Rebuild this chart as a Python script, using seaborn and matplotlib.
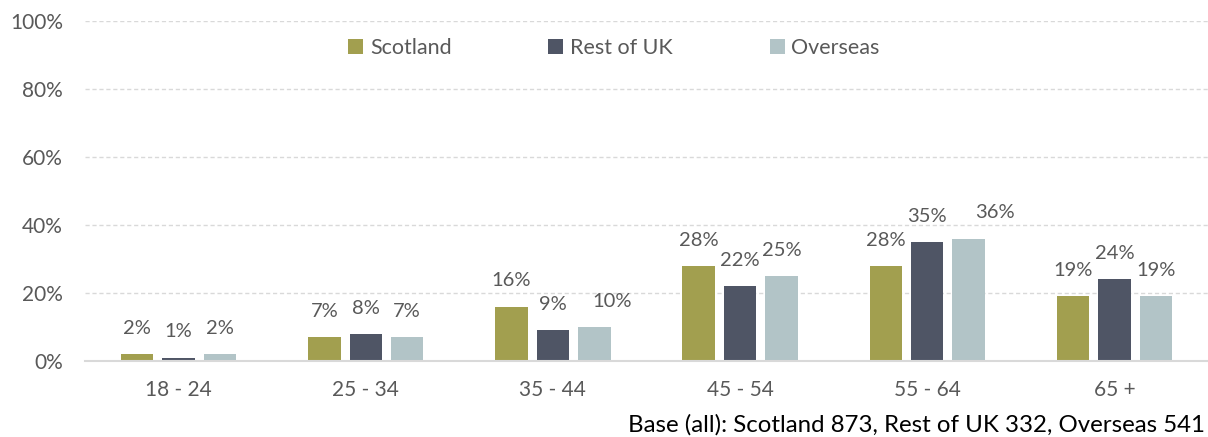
import matplotlib
matplotlib.use("Agg")
import matplotlib.pyplot as plt
import seaborn as sns
import pandas as pd
from matplotlib.patches import Patch

categories = ["18 - 24", "25 - 34", "35 - 44", "45 - 54", "55 - 64", "65 +"]
series_names = ["Scotland", "Rest of UK", "Overseas"]
scotland = [2, 7, 16, 28, 28, 19]
rest_of_uk = [1, 8, 9, 22, 35, 24]
overseas = [2, 7, 10, 25, 36, 19]
y_ticks = [0, 20, 40, 60, 80, 100]
footnote = "Base (all): Scotland 873, Rest of UK 332, Overseas 541"

colors = ["#A29F4F", "#4F5565", "#B2C4C7"]
text_grey = "#595959"

rows = []
for name, vals in zip(series_names, [scotland, rest_of_uk, overseas]):
    for c, v in zip(categories, vals):
        rows.append({"Age": c, "Group": name, "Value": v})
df = pd.DataFrame(rows)

sns.set_theme(style="white")
plt.rcParams["font.family"] = ["Lato", "DejaVu Sans"]

fig = plt.figure(figsize=(12.08, 4.37), dpi=100)
ax = fig.add_axes([85 / 1208, 1 - 361 / 437, (1208 - 85) / 1208, (361 - 21) / 437])

sns.barplot(data=df, x="Age", y="Value", hue="Group", order=categories,
            hue_order=series_names, palette=colors, width=0.665, gap=0.217,
            saturation=1, ax=ax, legend=False, edgecolor="none")

ax.set_xlim(-0.5, len(categories) - 0.5)
ax.set_ylim(0, 100)
ax.set_yticks(y_ticks)
ax.set_yticklabels([f"{t}%" for t in y_ticks])
ax.set_xlabel("")
ax.set_ylabel("")

for s in ["top", "right", "left"]:
    ax.spines[s].set_visible(False)
ax.spines["bottom"].set_color("#D9D9D9")
ax.spines["bottom"].set_linewidth(1.5)
ax.spines["bottom"].set_zorder(5)

for t in y_ticks[1:]:
    ax.axhline(t, color="#D9D9D9", linestyle=(0, (3, 2)), linewidth=1.0, zorder=0)

ax.tick_params(axis="y", length=0, pad=16, labelsize=15, labelcolor=text_grey)
ax.tick_params(axis="x", length=0, pad=14, labelsize=15, labelcolor=text_grey)

# label nudges (points) mimicking the reference auto-placement
nudge = {("Overseas", "35 - 44"): 13, ("Overseas", "55 - 64"): 19}
for cont, name in zip(ax.containers, series_names):
    for bar, cat in zip(cont, categories):
        h = bar.get_height()
        dx = nudge.get((name, cat), 0)
        ax.annotate(f"{h:.0f}%", (bar.get_x() + bar.get_width() / 2, h),
                    xytext=(dx, 18.5), textcoords="offset points",
                    ha="center", va="center", fontsize=14.5, color=text_grey)

handles = [Patch(facecolor=c, edgecolor="none") for c in colors]
leg = ax.legend(handles, series_names, loc="center", bbox_to_anchor=(0.471, 0.921),
                ncol=3, frameon=False, fontsize=15.5, handlelength=0.7,
                handleheight=0.7, handletextpad=0.3, columnspacing=4.5)
for t in leg.get_texts():
    t.set_color(text_grey)

fig.text(1205 / 1208, 1 - 425 / 437, footnote, ha="right", va="center",
         fontsize=17.3, color="black")

fig.savefig("out.png", dpi=100)
